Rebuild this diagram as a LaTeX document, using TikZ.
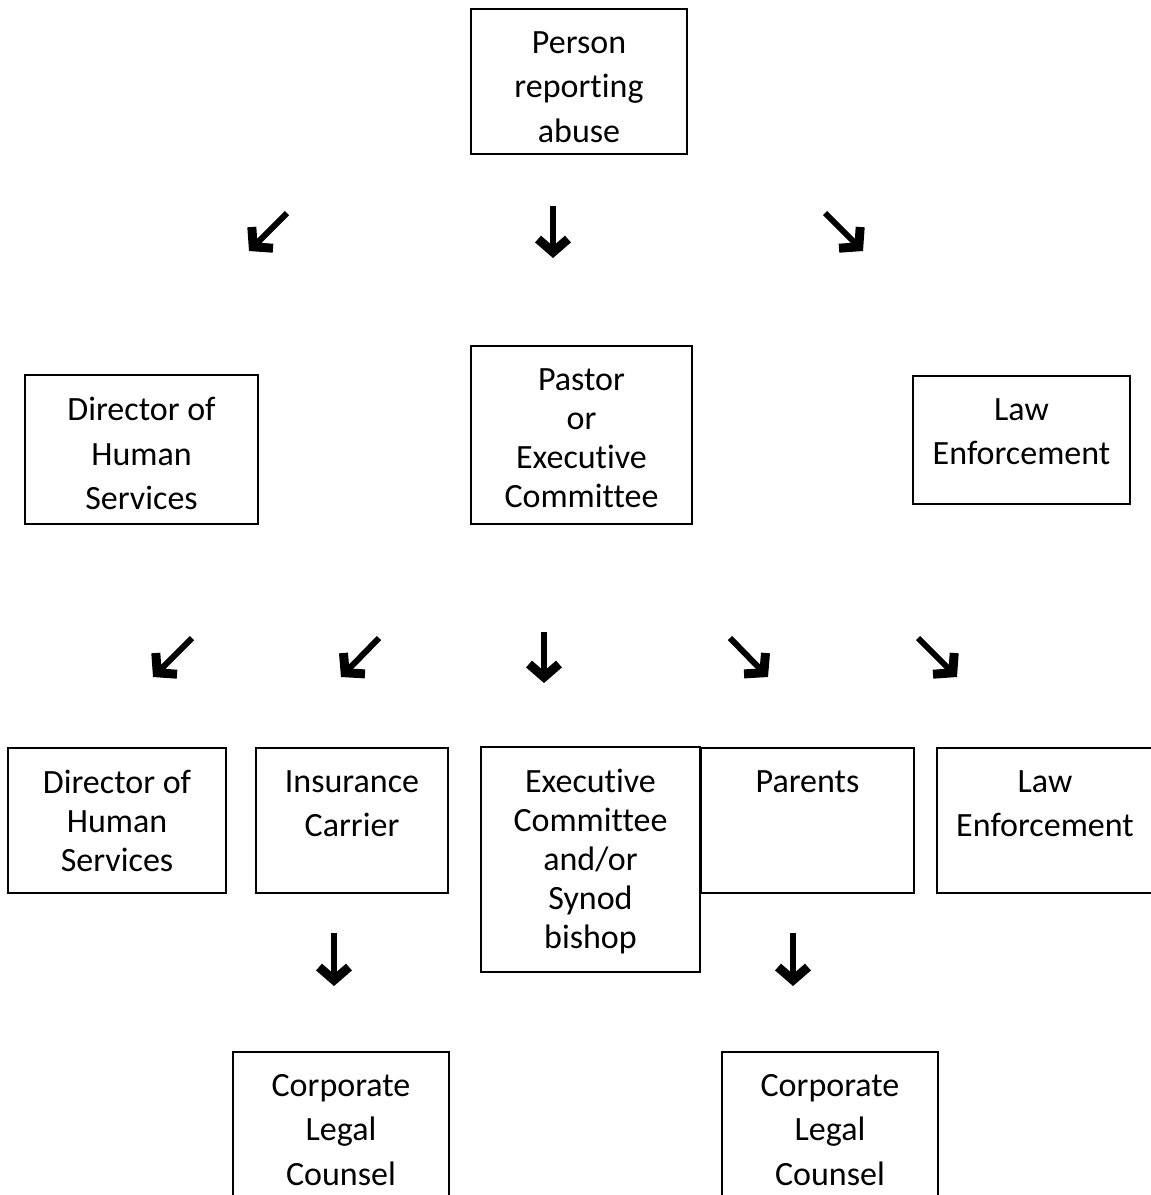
\documentclass[tikz,border=0pt]{standalone}
\usepackage{fontspec}
\setmainfont{Carlito}[RawFeature={-liga;-clig;-dlig}]
\usetikzlibrary{arrows.meta}

\tikzset{
  box/.style={draw, line width=2pt, inner sep=0pt, anchor=north},
  lbl/.style={anchor=north, inner sep=0pt, align=center, yshift=-23pt,
    font=\fontsize{34pt}{44.5pt}\selectfont},
  tight/.style={font=\fontsize{34pt}{39pt}\selectfont},
  glyph/.style={line width=6pt, -{Straight Barb[length=13pt, width=30pt, line width=9pt 0 1]}},
}

\begin{document}
\begin{tikzpicture}[x=1pt, y=-1pt]
  \clip (0,0) rectangle (1151,1195);

  % first level
  \node[box, minimum width=216pt, minimum height=145pt, label={[lbl]north:Person\\reporting\\abuse}] (person) at (579,8) {};

  \draw[glyph] (287,213) -- (249,251);
  \draw[glyph] (553,206) -- (553,258);
  \draw[glyph] (825,213) -- (863,251);

  % second level
  \node[box, minimum width=233pt, minimum height=149pt, label={[lbl]north:Director of\\Human\\Services}] (dirA) at (141.5,374) {};
  \node[box, minimum width=221pt, minimum height=178pt, label={[lbl,tight]north:Pastor\\or\\Executive\\Committee}] (pastor) at (581.5,345) {};
  \node[box, minimum width=217pt, minimum height=128pt, label={[lbl]north:Law\\Enforcement}] (lawA) at (1021.5,375) {};

  \draw[glyph] (192,638) -- (153,677);
  \draw[glyph] (379,638) -- (341,677);
  \draw[glyph] (544,632) -- (544,683);
  \draw[glyph] (730,638) -- (768,677);
  \draw[glyph] (918,638) -- (957,677);

  % third level
  \node[box, minimum width=218pt, minimum height=145pt, label={[lbl,tight]north:Director of\\Human\\Services}] (dirB) at (117,747) {};
  \node[box, minimum width=192pt, minimum height=145pt, label={[lbl]north:Insurance\\Carrier}] (carrier) at (352,747) {};
  \node[box, minimum width=219pt, minimum height=225pt, label={[lbl,tight]north:Executive\\Committee\\and/or\\Synod\\bishop}] (synod) at (590.5,746) {};
  \node[box, minimum width=213pt, minimum height=145pt, label={[lbl]north:Parents}] (parents) at (807.5,747) {};
  \node[box, minimum width=216pt, minimum height=145pt, label={[lbl]north:Law\\Enforcement}] (lawB) at (1045,747) {};

  \draw[glyph] (334,933) -- (334,986);
  \draw[glyph] (793,933) -- (793,986);

  % fourth level
  \node[box, minimum width=216pt, minimum height=150pt, label={[lbl]north:Corporate\\Legal\\Counsel}] (legalA) at (341,1051) {};
  \node[box, minimum width=216pt, minimum height=150pt, label={[lbl]north:Corporate\\Legal\\Counsel}] (legalB) at (830,1051) {};
\end{tikzpicture}
\end{document}
